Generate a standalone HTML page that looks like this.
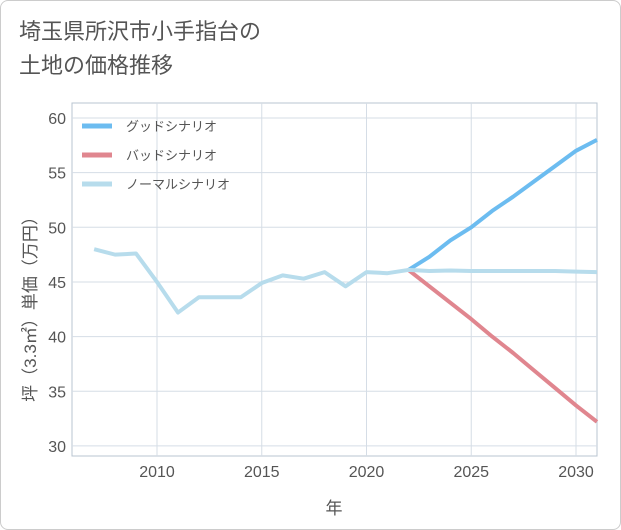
<!DOCTYPE html>
<html><head><meta charset="utf-8"><style>
body{margin:0;background:#fff;font-family:"Liberation Sans","Noto Sans CJK JP",sans-serif}
#wrap{position:relative;width:619px;height:528px;border:1px solid #ccc;border-radius:8px;background:#fff}
#title{position:absolute;left:18px;top:14px;font-size:22px;line-height:34px;color:#555}
</style></head><body>
<div id="wrap">
<div id="title">埼玉県所沢市小手指台の<br>土地の価格推移</div>
<svg id="chart" width="621" height="530" style="position:absolute;left:-1px;top:-1px"></svg>
</div>
<script>
const years=[2007,2008,2009,2010,2011,2012,2013,2014,2015,2016,2017,2018,2019,2020,2021,2022,2023,2024,2025,2026,2027,2028,2029,2030,2031];
const normalVals=[48,47.5,47.6,45,42.2,43.6,43.6,43.6,44.9,45.6,45.3,45.9,44.6,45.9,45.8,46.1,46,46.05,46,46,46,46,46,45.95,45.9];
const goodYears=[2022,2023,2024,2025,2026,2027,2028,2029,2030,2031];
const goodVals=[46.1,47.3,48.8,50,51.5,52.8,54.2,55.6,57,58];
const badVals=[46.1,44.6,43.1,41.6,40,38.5,36.9,35.3,33.7,32.2];
const xTicks=[2010,2015,2020,2025,2030];
const yTicks=[30,35,40,45,50,55,60];
const NS="http://www.w3.org/2000/svg";
const svg=document.getElementById('chart');
const L=72,R=597,T=103,B=456;
const x=v=>157+(v-2010)*20.95;
const y=v=>118+(60-v)*10.93;
function mk(t,a){const e=document.createElementNS(NS,t);for(const k in a)e.setAttribute(k,a[k]);svg.appendChild(e);return e;}
const bg=mk('rect',{x:L,y:T,width:R-L,height:B-T,fill:'#fff',stroke:'#b8c4d0'});


xTicks.forEach(v=>{
 const g=mk('line',{x1:x(v),x2:x(v),y1:T,y2:B,stroke:'#d5dde6'});
 
 
 const t=mk('text',{x:x(v),y:477,'text-anchor':'middle','font-size':'16',fill:'#555'});
 t.textContent=v;
 
 
});
yTicks.forEach(v=>{
 const g=mk('line',{x1:L,x2:R,y1:y(v),y2:y(v),stroke:'#d5dde6'});
 
 
 const t=mk('text',{x:66,y:y(v)+6,'text-anchor':'end','font-size':'16',fill:'#555'});
 t.textContent=v;
 
 
});
function line(xs,vs,c,n){
 const p=mk('polyline',{points:xs.map((a,i)=>x(a)+','+y(vs[i])).join(' '),fill:'none',stroke:c,'stroke-width':4,'stroke-linejoin':'round'});
 
 
}
line(goodYears,badVals,'#e0868f','bad-scenario-line');
line(goodYears,goodVals,'#6cbcf0','good-scenario-line');
line(years,normalVals,'#b7dcec','normal-scenario-line');
const leg=[['グッドシナリオ','#6cbcf0'],['バッドシナリオ','#e0868f'],['ノーマルシナリオ','#b7dcec']];
leg.forEach((l,i)=>{
 const yy=126+i*29;
 const s=mk('line',{x1:82,x2:112,y1:yy,y2:yy,stroke:l[1],'stroke-width':5});
 
 
 const t=mk('text',{x:126,y:yy+5,'font-size':'13',fill:'#555'});
 t.textContent=l[0];
 
 
});
const xt=mk('text',{x:334,y:514,'text-anchor':'middle','font-size':'17',fill:'#555'});
xt.textContent='年';


const yt=mk('text',{x:0,y:0,'text-anchor':'middle','font-size':'17',fill:'#555',transform:'translate(36,305) rotate(-90)'});
yt.textContent='坪（3.3㎡）単価（万円）';


</script>
</body></html>
